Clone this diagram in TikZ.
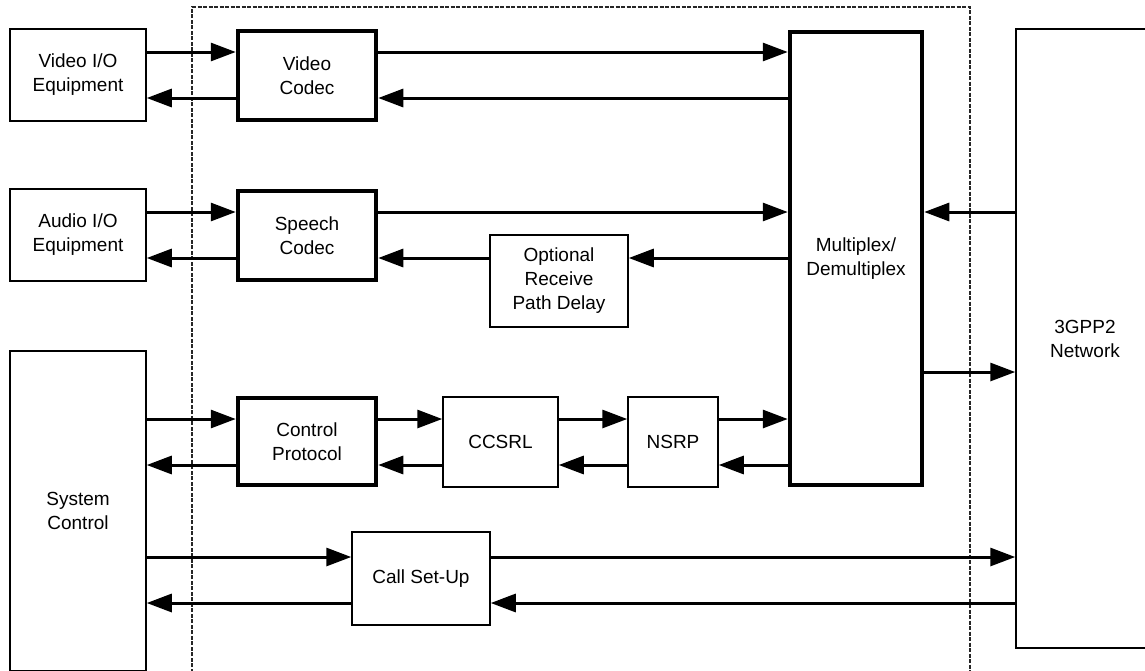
\documentclass[tikz,border=0pt]{standalone}
\usepackage{fontspec}
\setmainfont{Liberation Sans}
\usepackage{tikz}
\usetikzlibrary{arrows.meta}
\tikzset{
blk/.style={draw, line width=1.5pt, align=center, inner sep=0pt, font=\fontsize{19}{24}\selectfont},
thickblk/.style={blk, line width=4.5pt},
flow/.style={line width=3pt, -{Triangle[length=25pt,width=18pt]}},
frame/.style={draw=black!85, line width=1.3pt, dash pattern=on 4pt off 1.5pt}
}

\begin{document}
\begin{tikzpicture}[x=1pt, y=-1pt]
\useasboundingbox (0,0) rectangle (1145,670);
\clip (0,0) rectangle (1145,670);

% terminal side
\draw[frame] (192,700) -- (192,7) -- (970,7) -- (970,700);

\node[blk, minimum width=136pt, minimum height=92pt] (vio) at (78,75) {Video I/O\\Equipment};
\node[blk, minimum width=136pt, minimum height=92pt] (aio) at (78,235) {Audio I/O\\Equipment};
\node[blk, minimum width=136pt, minimum height=320pt] (sys) at (78,511) {System\\Control};

\node[thickblk, minimum width=138pt, minimum height=89pt] (vcodec) at (307,75.5) {Video\\Codec};
\node[thickblk, minimum width=138pt, minimum height=89pt] (scodec) at (307,235.5) {Speech\\Codec};
\node[thickblk, minimum width=138pt, minimum height=87pt] (cp) at (307,441.5) {Control\\Protocol};
\node[blk, minimum width=115pt, minimum height=90pt] (ccsrl) at (500.5,442) {CCSRL};
\node[blk, minimum width=90pt, minimum height=90pt] (nsrp) at (673,442) {NSRP};
\node[blk, minimum width=138pt, minimum height=92pt] (delay) at (559,281) {Optional\\Receive\\Path Delay};
\node[blk, minimum width=138pt, minimum height=93pt] (call) at (421,578.5) {Call Set-Up};
\node[thickblk, minimum width=132pt, minimum height=453pt] (mux) at (856,258.5) {Multiplex/\\Demultiplex};
\node[blk, minimum width=138pt, minimum height=619pt] (net) at (1085,338.5) {3GPP2\\Network};

% signal rows
\foreach \n/\y in {1/52, 2/98, 3/212, 4/258, 5/372, 6/419, 7/465, 8/557, 9/603}
  \coordinate (r\n) at (0,\y);

\draw[flow] (vio.east |- r1) -- (vcodec.west |- r1);
\draw[flow] (vcodec.east |- r1) -- (mux.west |- r1);
\draw[flow] (mux.west |- r2) -- (vcodec.east |- r2);
\draw[flow] (vcodec.west |- r2) -- (vio.east |- r2);

\draw[flow] (aio.east |- r3) -- (scodec.west |- r3);
\draw[flow] (scodec.east |- r3) -- (mux.west |- r3);
\draw[flow] (net.west |- r3) -- (mux.east |- r3);
\draw[flow] (mux.west |- r4) -- (delay.east |- r4);
\draw[flow] (delay.west |- r4) -- (scodec.east |- r4);
\draw[flow] (scodec.west |- r4) -- (aio.east |- r4);
\draw[flow] (mux.east |- r5) -- (net.west |- r5);

\draw[flow] (sys.east |- r6) -- (cp.west |- r6);
\draw[flow] (cp.east |- r6) -- (ccsrl.west |- r6);
\draw[flow] (ccsrl.east |- r6) -- (nsrp.west |- r6);
\draw[flow] (nsrp.east |- r6) -- (mux.west |- r6);
\draw[flow] (mux.west |- r7) -- (nsrp.east |- r7);
\draw[flow] (nsrp.west |- r7) -- (ccsrl.east |- r7);
\draw[flow] (ccsrl.west |- r7) -- (cp.east |- r7);
\draw[flow] (cp.west |- r7) -- (sys.east |- r7);

\draw[flow] (sys.east |- r8) -- (call.west |- r8);
\draw[flow] (call.east |- r8) -- (net.west |- r8);
\draw[flow] (net.west |- r9) -- (call.east |- r9);
\draw[flow] (call.west |- r9) -- (sys.east |- r9);
\end{tikzpicture}
\end{document}
